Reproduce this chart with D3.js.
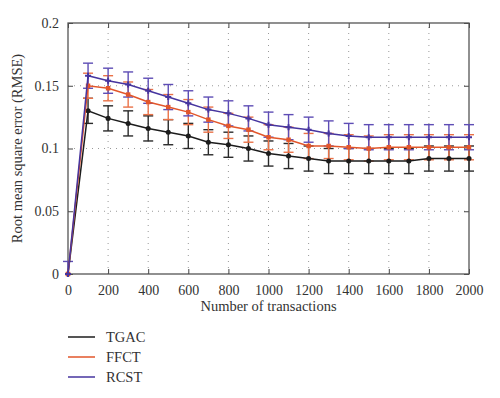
<!DOCTYPE html>
<html>
<head>
<meta charset="utf-8">
<script src="https://cdn.jsdelivr.net/npm/d3@7"></script>
<style>
  body { margin: 0; background: #fff; }
  svg text { font-family: "Liberation Serif", "DejaVu Serif", serif !important; fill: #333; }
</style>
</head>
<body>
<figure id="chart" style="margin:0"></figure>
<script>
const xValues = [0, 100, 200, 300, 400, 500, 600, 700, 800, 900, 1000,
  1100, 1200, 1300, 1400, 1500, 1600, 1700, 1800, 1900, 2000];
const tgac = [0, 0.130, 0.124, 0.120, 0.116, 0.113, 0.110, 0.105, 0.103, 0.100, 0.096,
  0.094, 0.092, 0.090, 0.090, 0.090, 0.090, 0.090, 0.092, 0.092, 0.092];
const ffct = [0, 0.150, 0.148, 0.143, 0.137, 0.133, 0.129, 0.123, 0.118, 0.115, 0.109,
  0.107, 0.102, 0.102, 0.101, 0.100, 0.101, 0.101, 0.101, 0.101, 0.101];
const rcst = [0, 0.158, 0.154, 0.151, 0.146, 0.141, 0.136, 0.131, 0.128, 0.124, 0.119,
  0.117, 0.115, 0.112, 0.110, 0.109, 0.109, 0.109, 0.109, 0.109, 0.109];
const errTgac = [0, 0.01, 0.01, 0.01, 0.01, 0.01, 0.01, 0.01, 0.01, 0.01, 0.01,
  0.01, 0.01, 0.01, 0.01, 0.01, 0.01, 0.01, 0.01, 0.01, 0.01];
const errFfct = [0, 0.01, 0.01, 0.01, 0.01, 0.01, 0.01, 0.01, 0.01, 0.01, 0.01,
  0.01, 0.01, 0.01, 0.01, 0.01, 0.01, 0.01, 0.01, 0.01, 0.01];
const errRcst = [0.01, 0.01, 0.01, 0.01, 0.01, 0.01, 0.01, 0.01, 0.01, 0.01, 0.01,
  0.01, 0.01, 0.01, 0.01, 0.01, 0.01, 0.01, 0.01, 0.01, 0.01];
const seriesNames = ["TGAC", "FFCT", "RCST"];
const xTicks = [0, 200, 400, 600, 800, 1000, 1200, 1400, 1600, 1800, 2000];
const yTicks = [0, 0.05, 0.1, 0.15, 0.2];

const width = 500, height = 398;
const margin = {top: 23, right: 31, bottom: 124, left: 68};
const colors = ["#1c1c1c", "#e2562b", "#46359f"];
const errColors = ["#2a2a2a", "#ea7248", "#5e4db5"];
const markers = [d3.symbolCircle, d3.symbolSquare, d3.symbolCross];
const serif = "'Liberation Serif', 'DejaVu Serif', serif";

const svg = d3.select("#chart").append("svg")
  .attr("width", width).attr("height", height);

const x = d3.scaleLinear().domain([0, 2000]).range([margin.left, width - margin.right]);
const y = d3.scaleLinear().domain([0, 0.2]).range([height - margin.bottom, margin.top]);

const fmtY = d => d === 0 ? "0" : String(d);

// grid
const grid = svg.append("g").attr("stroke", "#999").attr("stroke-dasharray", "1,5").attr("stroke-width", 1);
grid.selectAll("line.gx").data(xTicks.slice(1, -1)).join("line")
  .attr("x1", d => x(d)).attr("x2", d => x(d))
  .attr("y1", y(0)).attr("y2", y(0.2));
grid.selectAll("line.gy").data(yTicks.slice(1, -1)).join("line")
  .attr("x1", x(0)).attr("x2", x(2000))
  .attr("y1", d => y(d)).attr("y2", d => y(d));

// axes
svg.append("g").attr("transform", `translate(0,${y(0)})`)
  .call(d3.axisBottom(x).tickValues(xTicks).tickSize(-5).tickPadding(11).tickFormat(d3.format("d")))
  .call(g => g.select(".domain").remove());
svg.append("g").attr("transform", `translate(0,${y(0.2)})`)
  .call(d3.axisTop(x).tickValues(xTicks).tickSize(-5).tickFormat(""))
  .call(g => g.select(".domain").remove());
svg.append("g").attr("transform", `translate(${x(0)},0)`)
  .call(d3.axisLeft(y).tickValues(yTicks).tickSize(-5).tickPadding(9).tickFormat(fmtY))
  .call(g => g.select(".domain").remove());
svg.append("g").attr("transform", `translate(${x(2000)},0)`)
  .call(d3.axisRight(y).tickValues(yTicks).tickSize(-5).tickFormat(""))
  .call(g => g.select(".domain").remove());
svg.selectAll(".tick line").attr("stroke", "#444");
svg.selectAll("g").attr("font-family", serif);
svg.selectAll(".tick text").style("font-family", serif).style("font-size", "14px").style("fill", "#333");

svg.append("rect")
  .attr("x", x(0)).attr("y", y(0.2))
  .attr("width", x(2000) - x(0)).attr("height", y(0) - y(0.2))
  .attr("fill", "none").attr("stroke", "#555").attr("stroke-width", 1.3);

// series
const allSeries = [tgac, ffct, rcst];
const allErr = [errTgac, errFfct, errRcst];
const plot = svg.append("g");
[0, 1, 2].forEach(i => {
  const pts = xValues.map((xv, j) => ({x: xv, v: allSeries[i][j], e: allErr[i][j]}));
  const eb = plot.append("g").attr("stroke", errColors[i]).attr("stroke-width", 1.4);
  const withErr = pts.filter(p => p.e > 0);
  eb.selectAll("line.v").data(withErr).join("line")
    .attr("x1", d => x(d.x)).attr("x2", d => x(d.x))
    .attr("y1", d => y(d.v + d.e)).attr("y2", d => y(Math.max(0, d.v - d.e)));
  eb.selectAll("line.t").data(withErr).join("line")
    .attr("x1", d => x(d.x) - 5).attr("x2", d => x(d.x) + 5)
    .attr("y1", d => y(d.v + d.e)).attr("y2", d => y(d.v + d.e));
  eb.selectAll("line.b").data(withErr.filter(d => d.v - d.e >= 0)).join("line")
    .attr("x1", d => x(d.x) - 5).attr("x2", d => x(d.x) + 5)
    .attr("y1", d => y(d.v - d.e)).attr("y2", d => y(d.v - d.e));
});
[0, 1, 2].forEach(i => {
  const pts = xValues.map((xv, j) => ({x: xv, v: allSeries[i][j]}));
  plot.append("path").datum(pts)
    .attr("fill", "none").attr("stroke", colors[i]).attr("stroke-width", 1.5)
    .attr("d", d3.line().x(d => x(d.x)).y(d => y(d.v)));
  plot.append("g").selectAll("path").data(pts).join("path")
    .attr("transform", d => `translate(${x(d.x)},${y(d.v)})`)
    .attr("d", d3.symbol().type(markers[i]).size(20))
    .attr("fill", colors[i]);
});

// axis titles
svg.append("text")
  .attr("x", (x(0) + x(2000)) / 2).attr("y", 311)
  .attr("text-anchor", "middle").style("font-size", "14.5px")
  .text("Number of transactions");
svg.append("text")
  .attr("transform", `translate(22,${(y(0) + y(0.2)) / 2}) rotate(-90)`)
  .attr("text-anchor", "middle").style("font-size", "14.5px")
  .text("Root mean square error (RMSE)");

// legend
const legend = svg.append("g").selectAll("g").data(seriesNames).join("g")
  .attr("transform", (d, i) => `translate(68,${337 + i * 20})`);
legend.append("line").attr("x1", 0).attr("x2", 27)
  .attr("stroke", (d, i) => colors[i]).attr("stroke-width", 1.5);
legend.append("text").attr("x", 38).attr("y", 5)
  .style("font-size", "14.5px").text(d => d);
</script>
</body>
</html>
